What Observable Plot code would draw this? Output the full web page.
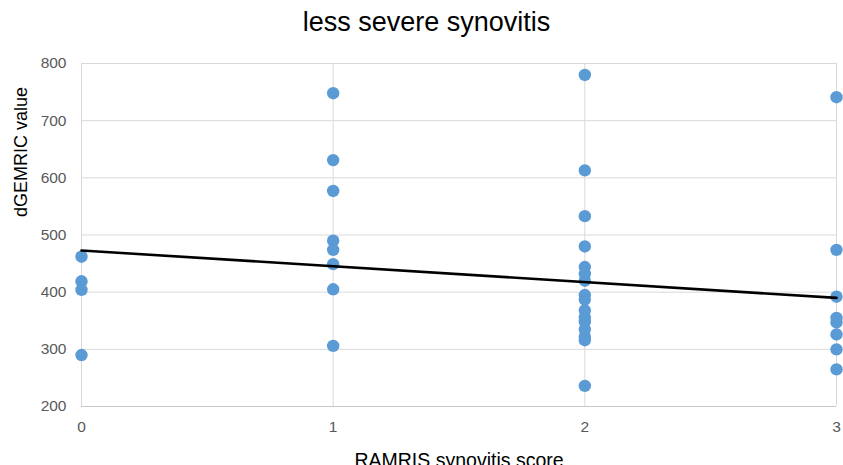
<!DOCTYPE html>
<html><head><meta charset="utf-8">
<script src="https://cdn.jsdelivr.net/npm/d3@7"></script>
<script src="https://cdn.jsdelivr.net/npm/@observablehq/plot@0.6"></script>
<style>
html,body{margin:0;padding:0;background:#fff;}
body{width:843px;height:465px;overflow:hidden;font-family:"Liberation Sans",Arial,sans-serif;}
#title{box-sizing:border-box;height:45px;padding-top:7px;padding-left:10px;text-align:center;font-size:27px;color:#000;line-height:normal;}
#chart svg{display:block;overflow:visible;}
</style></head>
<body>
<div id="title">less severe synovitis</div>
<div id="chart"></div>
<script>
// RAMRIS synovitis score columns and dGEMRIC values
const scores = [0, 1, 2, 3];
const dgemricScore0 = [462, 419, 404, 290];
const dgemricScore1 = [748, 631, 577, 490, 474, 449, 405, 306];
const dgemricScore2 = [780, 613, 533, 480, 444, 432, 420, 395, 387, 368, 356, 348, 335, 322, 316, 236];
const dgemricScore3 = [741, 474, 392, 355, 347, 326, 300, 265];
// Linear trend line endpoints (as drawn in the reference)
const trendX = [0, 3];
const trendY = [473, 390];
// Tick labels
const xTicks = [0, 1, 2, 3];
const yTicks = [200, 300, 400, 500, 600, 700, 800];

const columns = [dgemricScore0, dgemricScore1, dgemricScore2, dgemricScore3];
const points = columns.flatMap((vals, i) => vals.map(v => ({score: scores[i], value: v})));
const trend = trendX.map((x, i) => ({score: x, value: trendY[i]}));

const chart = Plot.plot({
  width: 843,
  height: 430,
  marginTop: 18,
  marginBottom: 69,
  marginLeft: 81,
  marginRight: 7,
  style: {fontFamily: "'Liberation Sans', Arial, sans-serif", background: "#fff", overflow: "visible"},
  x: {domain: [0, 3]},
  y: {domain: [200, 800]},
  marks: [
    Plot.gridY(yTicks, {stroke: "#d9d9d9", strokeOpacity: 1, strokeWidth: 1}),
    Plot.gridX(xTicks, {stroke: "#d9d9d9", strokeOpacity: 1, strokeWidth: 1}),
    Plot.ruleY([200], {stroke: "#c8c8c8", strokeWidth: 1}),
    Plot.axisY(yTicks, {tickSize: 0, tickPadding: 15, fontSize: 15.5, fill: "#595959", label: null}),
    Plot.axisX(xTicks, {tickSize: 0, tickPadding: 14, fontSize: 15.5, fill: "#595959", label: null, tickFormat: d3.format("d")}),
    Plot.text(["dGEMRIC value"], {frameAnchor: "left", rotate: -90, dx: -60, dy: -18, fontSize: 18, fill: "#000"}),
    Plot.text(["RAMRIS synovitis score"], {frameAnchor: "bottom", dy: 60, fontSize: 19.5, fill: "#000"}),
    Plot.dot(points, {x: "score", y: "value", r: 6.2, fill: "#5b9bd5", stroke: "none"}),
    Plot.line(trend, {x: "score", y: "value", stroke: "#000", strokeWidth: 2.6})
  ]
});
document.getElementById("chart").appendChild(chart);
</script>
</body></html>
